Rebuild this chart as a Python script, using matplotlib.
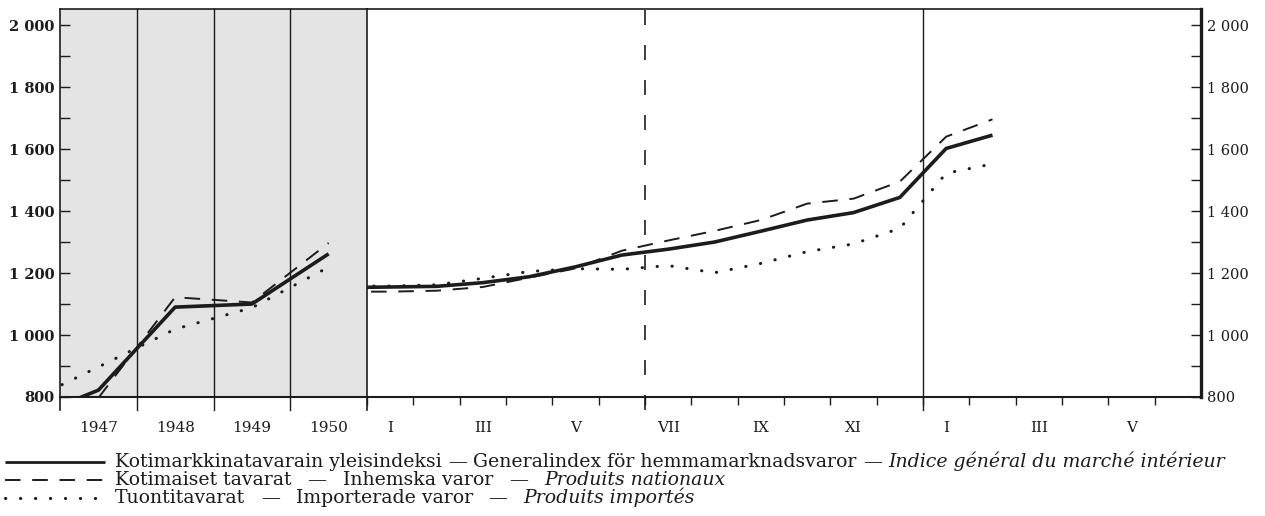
import numpy as np
import matplotlib
matplotlib.use('Agg')
import matplotlib.pyplot as plt
from matplotlib.lines import Line2D
from matplotlib.ticker import MultipleLocator, FuncFormatter

plt.rcParams['font.family'] = ['DejaVu Serif']

# vuosikeskiarvot (piste vuoden keskellä), 1946 vain viivan alkua varten
vuodet = [1946, 1947, 1948, 1949, 1950]
vuosi_yleis = [722, 822, 1090, 1100, 1262]
vuosi_koti = [np.nan, 797, 1122, 1105, 1297]
vuosi_tuonti = [776, 897, 1019, 1088, 1219]
vuosi_nimet = ['1947', '1948', '1949', '1950']

# kuukausiarvot XII/1950 ... II/1952
kk_nro = list(range(-1, 14))  # 0 = tammikuu 1951
kk_yleis = [1153, 1155, 1157, 1169, 1188, 1220, 1258, 1277, 1300, 1335, 1371, 1395, 1444, 1602, 1645]
kk_koti = [1140, 1140, 1143, 1155, 1185, 1215, 1272, 1305, 1336, 1371, 1424, 1440, 1495, 1640, 1696]
kk_tuonti = [1158, 1158, 1162, 1183, 1205, 1214, 1212, 1224, 1201, 1231, 1269, 1294, 1344, 1522, 1552]
kk_nimet = ['I', 'III', 'V', 'VII', 'IX', 'XI', 'I', 'III', 'V']

W, H = 1265, 516
musta = '#1c1c1c'
Y0, Y1 = 800, 2052

fig = plt.figure(figsize=(W / 100, H / 100), dpi=100)
fig.patch.set_facecolor('white')

def fx(px):
    return px / W

def fy(py):
    return 1 - py / H

ala, yla = 397, 9
ax1 = fig.add_axes([fx(60), fy(ala), fx(367 - 60), (ala - yla) / H])
ax2 = fig.add_axes([fx(367), fy(ala), fx(1201 - 367), (ala - yla) / H])

tyylit = dict(
    yleis=dict(color=musta, lw=2.6, ls='-', solid_capstyle='butt'),
    koti=dict(color=musta, lw=1.4, ls=(0, (8, 6))),
    tuonti=dict(color=musta, lw=2.2, ls=(0, (0.1, 4.8)), dash_capstyle='round'),
)

fmt = FuncFormatter(lambda v, p: f"{int(v):,}".replace(',', ' '))

# --- vasen, varjostettu osa (vuodet) ---
ax1.set_facecolor('#e4e4e4')
x_v = np.array(vuodet) + 0.5
ax1.plot(x_v, vuosi_tuonti, **tyylit['tuonti'])
ax1.plot(x_v, vuosi_koti, **tyylit['koti'])
ax1.plot(x_v, vuosi_yleis, **tyylit['yleis'])
ax1.set_xlim(1947, 1951)
ax1.set_ylim(Y0, Y1)
for v in [1948, 1949, 1950]:
    ax1.axvline(v, ymin=-13 / 388, ymax=1, color=musta, lw=1.0, clip_on=False)
ax1.axvline(1947, ymin=-13 / 388, ymax=0, color=musta, lw=1.2, clip_on=False)
ax1.set_xticks([])
ax1.set_xticks([1947.5, 1948.5, 1949.5, 1950.5], labels=vuosi_nimet, minor=True)
ax1.tick_params(axis='x', which='minor', length=0, pad=17, labelsize=11, colors=musta)
ax1.yaxis.set_major_locator(MultipleLocator(200))
ax1.yaxis.set_minor_locator(MultipleLocator(100))
ax1.yaxis.set_major_formatter(fmt)
ax1.tick_params(axis='y', which='both', direction='in', length=7, width=1.0, colors=musta,
                labelsize=10.5, pad=4)
for lab in ax1.get_yticklabels():
    lab.set_fontweight('bold')
ax1.spines['right'].set_visible(False)
for s in ['left', 'top', 'bottom']:
    ax1.spines[s].set_color(musta)
ax1.spines['left'].set_linewidth(1.2)
ax1.spines['top'].set_linewidth(1.2)
ax1.spines['bottom'].set_linewidth(1.5)

# --- oikea osa (kuukaudet) ---
x_k = np.array(kk_nro) + 0.5
ax2.plot(x_k, kk_tuonti, **tyylit['tuonti'])
ax2.plot(x_k, kk_koti, **tyylit['koti'])
ax2.plot(x_k, kk_yleis, **tyylit['yleis'])
ax2.set_xlim(0, 18)
ax2.set_ylim(Y0, Y1)
ax2.axvline(0, ymin=-13 / 388, ymax=1, color=musta, lw=1.2, clip_on=False)
ax2.axvline(12, ymin=-13 / 388, ymax=1, color=musta, lw=1.0, clip_on=False)
ax2.axvline(6, ymin=-13 / 388, ymax=1, color=musta, lw=1.2, ls=(0, (9, 12)), clip_on=False)
ax2.set_xticks(range(0, 18))
ax2.set_xticklabels([])
ax2.set_xticks(np.arange(0.5, 18, 2), labels=kk_nimet, minor=True)
ax2.tick_params(axis='x', which='major', direction='out', length=6, width=1.0, colors=musta)
ax2.tick_params(axis='x', which='minor', length=0, pad=17, labelsize=11, colors=musta)
ax2.yaxis.tick_right()
ax2.yaxis.set_major_locator(MultipleLocator(200))
ax2.yaxis.set_minor_locator(MultipleLocator(100))
ax2.yaxis.set_major_formatter(fmt)
ax2.tick_params(axis='y', which='both', direction='in', length=7, width=1.0, colors=musta,
                labelsize=10.5, pad=4)
for s in ['left', 'top', 'bottom', 'right']:
    ax2.spines[s].set_color(musta)
ax2.spines['left'].set_visible(False)
ax2.spines['top'].set_linewidth(1.2)
ax2.spines['bottom'].set_linewidth(1.5)
ax2.spines['right'].set_linewidth(2.4)

# --- selitteet: roomalaiset osat jaetaan tasaisesti, kursiivi alkaa annetusta x:stä ---
selitteet = [
    ('yleis', 467, ['Kotimarkkinatavarain yleisindeksi', '—', 'Generalindex för hemmamarknadsvaror', '—'],
     'Indice général du marché intérieur', 888),
    ('koti', 485, ['Kotimaiset tavarat', '—', 'Inhemska varor', '—'],
     'Produits nationaux', 544),
    ('tuonti', 503, ['Tuontitavarat', '—', 'Importerade varor', '—'],
     'Produits importés', 523),
]
renderer = fig.canvas.get_renderer()
koko = 13.6
for avain, py, osat, kursiivi, x_kurs in selitteet:
    tyyli = dict(tyylit[avain])
    if avain == 'yleis':
        tyyli['lw'] = 2.0
    fig.add_artist(Line2D([fx(5), fx(105)], [fy(py - 5), fy(py - 5)], **tyyli))
    tekstit = [fig.text(0, fy(py), o, fontsize=koko, color=musta, ha='left', va='baseline')
               for o in osat]
    leveydet = [t.get_window_extent(renderer).width for t in tekstit]
    vali = (x_kurs - 115 - sum(leveydet)) / len(osat)
    x = 115
    for t, lev in zip(tekstit, leveydet):
        t.set_x(fx(x))
        x += lev + vali
    fig.text(fx(x_kurs), fy(py), kursiivi, fontsize=koko, fontstyle='italic', color=musta,
             ha='left', va='baseline')

fig.savefig('out.png', dpi=100, facecolor='white')
